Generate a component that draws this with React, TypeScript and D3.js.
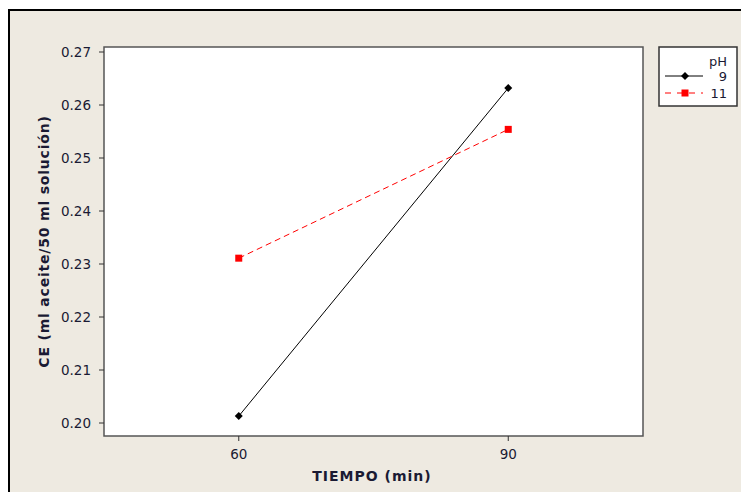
import React from "react";
import * as d3 from "d3";

const tiempo = [60, 90];
const seriesNames = ["9", "11"];
const ph9 = [0.2013, 0.2632];
const ph11 = [0.2311, 0.2554];
const yTicks = [0.2, 0.21, 0.22, 0.23, 0.24, 0.25, 0.26, 0.27];
const xTicks = [60, 90];

const W = 741;
const H = 492;
const plot = { left: 104, top: 47, right: 643, bottom: 436 };
const font = "'DejaVu Sans', sans-serif";

export default function App() {
  const x = d3.scaleLinear().domain([45, 105]).range([plot.left, plot.right]);
  const y = d3
    .scaleLinear()
    .domain([0.2, 0.27])
    .range([423, 52]);
  const line = d3
    .line<[number, number]>()
    .x((d) => x(d[0]))
    .y((d) => y(d[1]));
  const d9 = tiempo.map((t, i) => [t, ph9[i]] as [number, number]);
  const d11 = tiempo.map((t, i) => [t, ph11[i]] as [number, number]);
  const diamond = (cx: number, cy: number, r: number) =>
    `M${cx},${cy - r}L${cx + r},${cy}L${cx},${cy + r}L${cx - r},${cy}Z`;

  return (
    <svg
      width={W}
      height={H}
      style={{ position: "absolute", left: 0, top: 0 }}
      fontFamily={font}
    >
      <rect x={0} y={0} width={W} height={H} fill="#ffffff" />
      <rect x={9} y={10} width={W} height={H} fill="#EEEAE1" />
      <line x1={9} y1={9} x2={9} y2={H} stroke="#000" strokeWidth={2} />
      <line x1={8} y1={10} x2={W} y2={10} stroke="#000" strokeWidth={2} />

      <rect
        x={plot.left}
        y={plot.top}
        width={plot.right - plot.left}
        height={plot.bottom - plot.top}
        fill="#fff"
        stroke="#555"
        strokeWidth={1.5}
      />

      {yTicks.map((t) => (
        <g key={t}>
          <line x1={plot.left - 5} x2={plot.left} y1={y(t)} y2={y(t)} stroke="#333" />
          <text
            x={plot.left - 13}
            y={y(t)}
            dy="0.36em"
            textAnchor="end"
            fontSize={13.5}
            fill="#1a1a33"
          >
            {t.toFixed(2)}
          </text>
        </g>
      ))}
      {xTicks.map((t) => (
        <g key={t}>
          <line x1={x(t)} x2={x(t)} y1={plot.bottom} y2={plot.bottom + 5} stroke="#333" />
          <text
            x={x(t)}
            y={plot.bottom + 23}
            textAnchor="middle"
            fontSize={13.5}
            fill="#1a1a33"
          >
            {t}
          </text>
        </g>
      ))}

      <text
        x={372}
        y={481}
        textAnchor="middle"
        fontSize={14}
        fontWeight="bold"
        letterSpacing={1}
        fill="#1a1a33"
      >
        TIEMPO (min)
      </text>
      <text
        transform={`translate(48.5,241.5) rotate(-90)`}
        textAnchor="middle"
        fontSize={14}
        fontWeight="bold"
        letterSpacing={0.8}
        fill="#1a1a33"
      >
        CE (ml aceite/50 ml solución)
      </text>

      <path d={line(d9) || ""} fill="none" stroke="#000" strokeWidth={1} />
      <path
        d={line(d11) || ""}
        fill="none"
        stroke="#ff0000"
        strokeWidth={1}
        strokeDasharray="6,4"
      />
      {d9.map((d, i) => (
        <path key={"a" + i} d={diamond(x(d[0]), y(d[1]), 4)} fill="#000" />
      ))}
      {d11.map((d, i) => (
        <rect
          key={"b" + i}
          x={x(d[0]) - 3.5}
          y={y(d[1]) - 3.5}
          width={7}
          height={7}
          fill="#ff0000"
        />
      ))}

      <rect x={659} y={47} width={78} height={59} fill="#fff" stroke="#333" strokeWidth={1.5} />
      <text x={727} y={66} textAnchor="end" fontSize={13} fill="#1a1a33">
        pH
      </text>
      <line x1={665} x2={703} y1={76} y2={76} stroke="#000" />
      <path d={diamond(685, 76, 4)} fill="#000" />
      <text x={727} y={80.5} textAnchor="end" fontSize={13} fill="#1a1a33">
        {seriesNames[0]}
      </text>
      <line x1={665} x2={703} y1={93} y2={93} stroke="#ff0000" strokeDasharray="6,6" />
      <rect x={681.5} y={89.5} width={7} height={7} fill="#ff0000" />
      <text x={727} y={97.5} textAnchor="end" fontSize={13} fill="#1a1a33">
        {seriesNames[1]}
      </text>
    </svg>
  );
}
